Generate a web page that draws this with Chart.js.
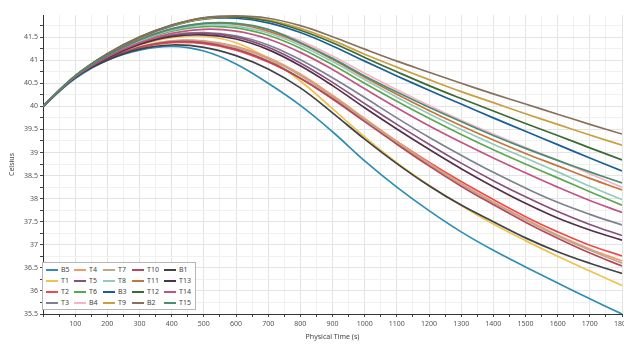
<!DOCTYPE html>
<html>
<head>
<meta charset="utf-8">
<script src="https://cdn.jsdelivr.net/npm/chart.js@4/dist/chart.umd.min.js"></script>
<style>
  body { margin: 0; background: #fff; overflow: hidden; width: 624px; height: 344px; }
  #wrap { position: relative; width: 640px; height: 344px; }
  #legend {
    position: absolute; left: 42px; top: 262px; width: 154px; height: 48px;
    border: 1px solid #b5b5b5; background: #fff; box-sizing: border-box;
    display: grid; grid-template-rows: repeat(4, 1fr); grid-auto-flow: column;
    grid-template-columns: 28px 29px 29px 32px 30px;
    padding: 1px 2px 1px 3px;
    font: 7px "Noto Sans", sans-serif; color: #444;
  }
  #legend .item { display: flex; align-items: center; white-space: nowrap; }
  #legend .sw { display: inline-block; width: 12px; height: 2px; margin-right: 3px; }
</style>
</head>
<body>
<div id="wrap">
  <canvas id="chart" width="640" height="344"></canvas>
  <div id="legend"></div>
</div>
<script>
// time axis (s)
var times = [0, 100, 200, 300, 400, 500, 600, 700, 800, 900, 1000, 1100, 1200, 1300, 1400, 1500, 1600, 1700, 1800];

// legend order (column by column)
var seriesNames = ['B5', 'T1', 'T2', 'T3', 'T4', 'T5', 'T6', 'B4', 'T7', 'T8', 'B3', 'T9', 'T10', 'T11', 'T12', 'B2', 'B1', 'T13', 'T14', 'T15'];

// temperatures (Celsius) per probe
var B5  = [40, 40.60, 41.00, 41.22, 41.30, 41.20, 40.92, 40.50, 40.02, 39.45, 38.82, 38.25, 37.74, 37.28, 36.88, 36.52, 36.17, 35.83, 35.50];
var T1  = [40, 40.64, 41.05, 41.33, 41.49, 41.52, 41.38, 41.04, 40.55, 39.95, 39.34, 38.78, 38.29, 37.85, 37.45, 37.09, 36.75, 36.43, 36.12];
var T2  = [40, 40.63, 41.02, 41.27, 41.38, 41.36, 41.22, 40.96, 40.61, 40.18, 39.71, 39.24, 38.79, 38.37, 37.98, 37.61, 37.28, 36.99, 36.76];
var T3  = [40, 40.64, 41.06, 41.36, 41.55, 41.60, 41.53, 41.33, 41.01, 40.62, 40.19, 39.75, 39.33, 38.94, 38.57, 38.23, 37.92, 37.66, 37.43];
var T4  = [40, 40.63, 41.03, 41.29, 41.42, 41.42, 41.30, 41.06, 40.70, 40.24, 39.74, 39.24, 38.77, 38.33, 37.93, 37.56, 37.21, 36.91, 36.65];
var T5  = [40, 40.64, 41.06, 41.35, 41.53, 41.58, 41.50, 41.28, 40.94, 40.52, 40.06, 39.61, 39.18, 38.77, 38.39, 38.04, 37.72, 37.44, 37.20];
var T6  = [40, 40.65, 41.09, 41.41, 41.63, 41.73, 41.70, 41.54, 41.26, 40.90, 40.50, 40.11, 39.74, 39.39, 39.06, 38.75, 38.45, 38.15, 37.86];
var B4  = [40, 40.65, 41.10, 41.44, 41.67, 41.79, 41.79, 41.66, 41.42, 41.09, 40.72, 40.36, 40.02, 39.70, 39.40, 39.11, 38.83, 38.54, 38.25];
var T7  = [40, 40.63, 41.03, 41.29, 41.42, 41.41, 41.28, 41.03, 40.67, 40.21, 39.71, 39.21, 38.74, 38.31, 37.91, 37.54, 37.19, 36.88, 36.60];
var T8  = [40, 40.65, 41.09, 41.42, 41.65, 41.76, 41.74, 41.59, 41.32, 40.97, 40.58, 40.20, 39.84, 39.50, 39.18, 38.88, 38.58, 38.27, 37.98];
var B3  = [40, 40.66, 41.13, 41.49, 41.74, 41.89, 41.91, 41.81, 41.60, 41.31, 40.98, 40.66, 40.35, 40.05, 39.75, 39.46, 39.17, 38.88, 38.60];
var T9  = [40, 40.66, 41.13, 41.49, 41.75, 41.90, 41.94, 41.87, 41.69, 41.43, 41.13, 40.85, 40.58, 40.32, 40.08, 39.84, 39.61, 39.38, 39.16];
var T10 = [40, 40.63, 41.03, 41.28, 41.40, 41.38, 41.24, 40.98, 40.61, 40.16, 39.67, 39.18, 38.71, 38.27, 37.87, 37.49, 37.14, 36.82, 36.54];
var T11 = [40, 40.65, 41.10, 41.45, 41.68, 41.80, 41.78, 41.63, 41.37, 41.02, 40.63, 40.26, 39.91, 39.58, 39.27, 38.98, 38.71, 38.44, 38.19];
var T12 = [40, 40.66, 41.14, 41.50, 41.76, 41.92, 41.94, 41.85, 41.65, 41.38, 41.06, 40.75, 40.45, 40.17, 39.90, 39.63, 39.37, 39.10, 38.84];
var B2  = [40, 40.66, 41.14, 41.50, 41.76, 41.92, 41.96, 41.91, 41.75, 41.51, 41.24, 40.98, 40.74, 40.50, 40.27, 40.05, 39.83, 39.61, 39.40];
var B1  = [40, 40.62, 41.00, 41.24, 41.33, 41.28, 41.10, 40.81, 40.40, 39.86, 39.29, 38.76, 38.28, 37.86, 37.50, 37.15, 36.85, 36.60, 36.38];
var T13 = [40, 40.64, 41.05, 41.34, 41.51, 41.55, 41.46, 41.23, 40.88, 40.45, 39.97, 39.51, 39.07, 38.65, 38.26, 37.90, 37.58, 37.32, 37.10];
var T14 = [40, 40.64, 41.07, 41.38, 41.58, 41.67, 41.63, 41.46, 41.17, 40.80, 40.38, 39.97, 39.58, 39.22, 38.88, 38.56, 38.25, 37.96, 37.70];
var T15 = [40, 40.65, 41.10, 41.44, 41.68, 41.80, 41.80, 41.67, 41.38, 41.04, 40.66, 40.31, 39.98, 39.67, 39.37, 39.09, 38.83, 38.58, 38.34];

var seriesValues = [B5, T1, T2, T3, T4, T5, T6, B4, T7, T8, B3, T9, T10, T11, T12, B2, B1, T13, T14, T15];

// axis tick labels
var xTickLabels = [100, 200, 300, 400, 500, 600, 700, 800, 900, 1000, 1100, 1200, 1300, 1400, 1500, 1600, 1700, 1800];
var yTickLabels = [35.5, 36, 36.5, 37, 37.5, 38, 38.5, 39, 39.5, 40, 40.5, 41, 41.5];

var colors = ['#2f8db5', '#efc24e', '#ec4a50', '#7d8290', '#f29a6c', '#8a4f7c', '#5fa653', '#f4b3c6',
              '#bba98c', '#92cbbb', '#1b5f97', '#c9a040', '#b4485c', '#c4763e', '#3d6b33', '#86705e',
              '#3f4247', '#533049', '#c25484', '#4a8c74'];

var datasets = seriesNames.map(function (name, i) {
    return {
        label: name,
        data: times.map(function (t, j) { return { x: t, y: seriesValues[i][j] }; }),
        borderColor: colors[i],
        backgroundColor: colors[i],
        borderWidth: 1.7,
        pointRadius: 0,
        tension: 0.4,
        fill: false
    };
});
// draw the late-high curves last, like the reference
datasets.reverse();

var tickFont = { family: 'Noto Sans', size: 7 };

new Chart(document.getElementById('chart').getContext('2d'), {
    type: 'line',
    data: { datasets: datasets },
    options: {
        responsive: false,
        animation: false,
        devicePixelRatio: 1,
        layout: { padding: { top: 15, right: 18, bottom: 0, left: 0 } },
        plugins: { legend: { display: false }, tooltip: { enabled: false } },
        scales: {
            x: {
                type: 'linear', min: 0, max: 1800,
                afterBuildTicks: function (scale) {
                    var t = [];
                    for (var v = 0; v <= 1800; v += 50) t.push({ value: v });
                    scale.ticks = t;
                },
                afterFit: function (scale) { scale.height = 30; },
                ticks: {
                    font: tickFont, color: '#555', maxRotation: 0, autoSkip: false, padding: 3,
                    callback: function (v) { return xTickLabels.indexOf(v) >= 0 ? String(v) : ''; }
                },
                grid: {
                    color: function (c) { return c.tick && c.tick.value % 100 === 0 ? '#e4e4e4' : '#f1f1f1'; },
                    tickColor: '#444', tickLength: 3
                },
                border: { color: '#333' },
                title: { display: true, text: 'Physical Time (s)', font: tickFont, color: '#444', padding: { top: 4, bottom: 3 } }
            },
            y: {
                min: 35.5, max: 41.98,
                afterBuildTicks: function (scale) {
                    var t = [];
                    for (var v = 35.5; v <= 41.9; v += 0.25) t.push({ value: Math.round(v * 100) / 100 });
                    scale.ticks = t;
                },
                afterFit: function (scale) { scale.width = 43; },
                ticks: {
                    font: tickFont, color: '#555', padding: 2,
                    callback: function (v) { return yTickLabels.indexOf(v) >= 0 ? String(v) : ''; }
                },
                grid: {
                    color: function (c) { return c.tick && yTickLabels.indexOf(c.tick.value) >= 0 ? '#e4e4e4' : '#f1f1f1'; },
                    tickColor: '#444', tickLength: 3
                },
                border: { color: '#333' },
                title: { display: true, text: 'Celsius', font: tickFont, color: '#444', padding: { top: 8, bottom: 0 } }
            }
        }
    }
});

// legend laid out column by column
var legend = document.getElementById('legend');
seriesNames.forEach(function (name, i) {
    var item = document.createElement('div');
    item.className = 'item';
    item.innerHTML = '<span class="sw" style="background:' + colors[i] + '"></span>' + name;
    legend.appendChild(item);
});
</script>
</body>
</html>
